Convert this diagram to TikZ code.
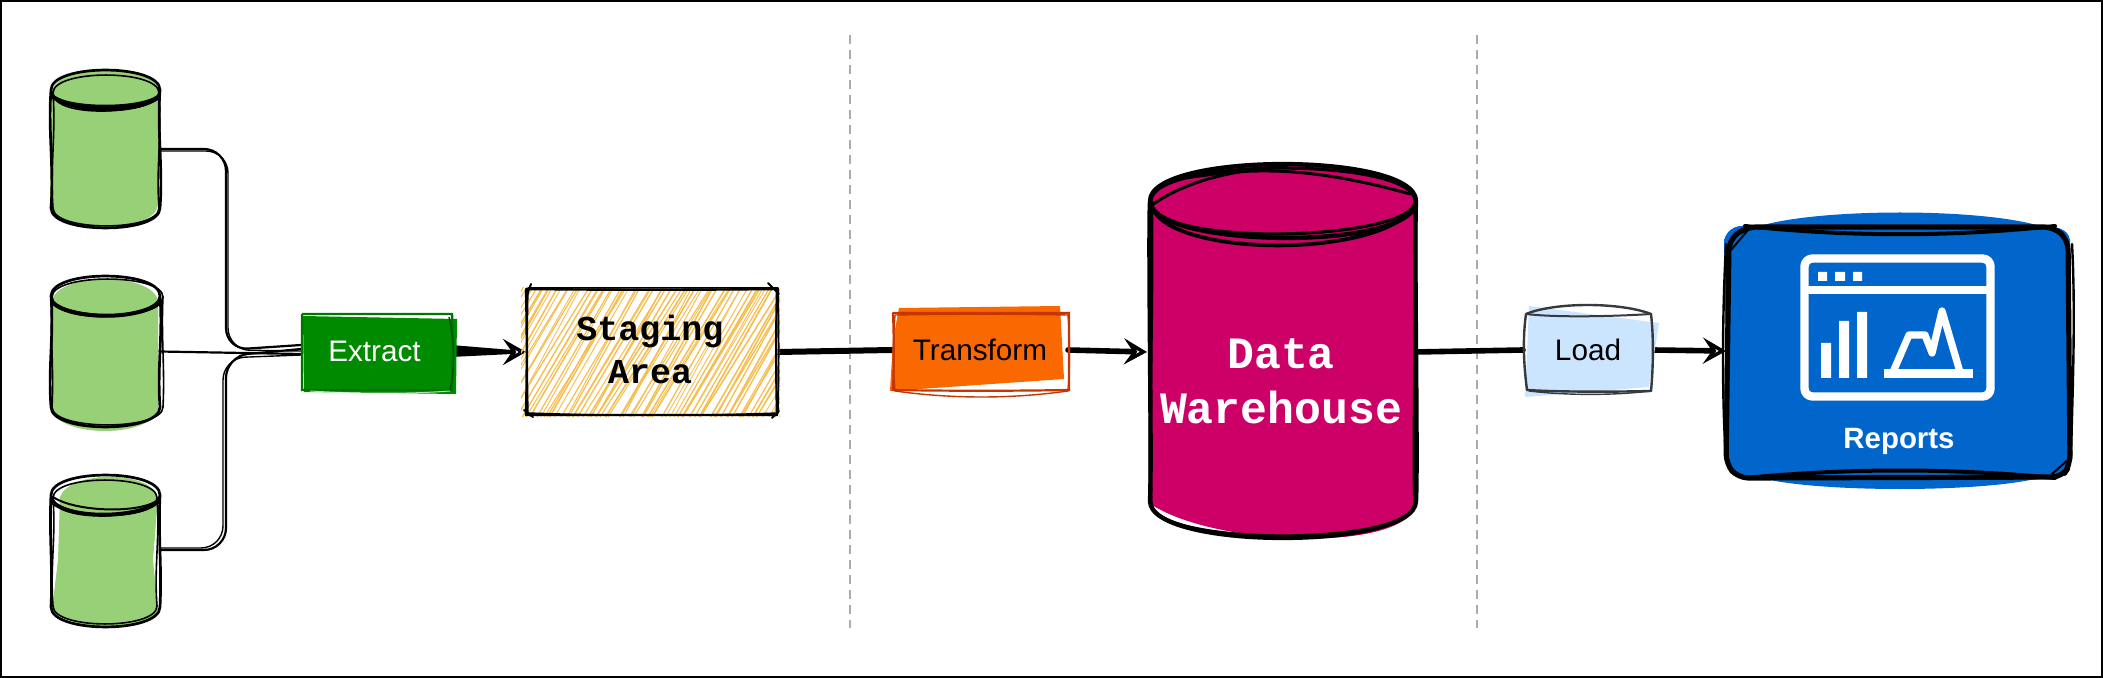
\documentclass[tikz,border=0pt]{standalone}
\usepackage{fontspec}
\setmainfont{Liberation Sans}
\newfontfamily\monof{Liberation Mono}
\usetikzlibrary{arrows.meta,calc}
\pgfdeclarelayer{connlayer}
\pgfdeclarelayer{shapelayer}
\pgfsetlayers{connlayer,shapelayer,main}
\definecolor{srcgreen}{HTML}{97D077}
\definecolor{exgreen}{HTML}{008A00}
\definecolor{hach}{HTML}{F6BE50}
\definecolor{orfill}{HTML}{FA6800}
\definecolor{orline}{HTML}{C73500}
\definecolor{dwfill}{HTML}{CC0066}
\definecolor{ldfill}{HTML}{CCE5FF}
\definecolor{ldline}{HTML}{36393D}
\definecolor{repfill}{HTML}{0066CC}
\tikzset{
  x=0.5pt,y=-0.5pt,
  nodebox/.style={inner sep=0pt,outer sep=0pt,align=center,text depth=0pt},
  ink/.style={draw=black,line cap=round,line join=round},
  thinink/.style={ink,line width=1pt},
  medink/.style={ink,line width=1.35pt},
  fatink/.style={ink,line width=2.4pt},
  wire/.style={ink,line width=1.1pt,rounded corners=11pt},
  flow/.style={ink,line width=2.8pt},
  flowtip/.style={-{Stealth[length=11.5pt,width=13pt,inset=4.5pt,fill=white,line width=2.1pt]}},
  divider/.style={draw=black!33,line width=1.3pt,dash pattern=on 4.5pt off 3pt},
  sanslabel/.style={nodebox,font=\fontsize{14.85}{18}\selectfont},
  monolabel/.style={nodebox,font=\monof\bfseries\fontsize{17.5}{21.5}\selectfont},
  bigmono/.style={nodebox,font=\monof\bfseries\fontsize{22.4}{27.5}\selectfont,text=white},
  iconline/.style={draw=white,line width=4.2pt,line join=round},
}
% one pass of a hand drawn box: left top right bottom, bulge of each side
\newcommand\skbox[9][]{%
  \draw[#1] (#2,#3) .. controls ({#2+(#4-#2)/3},{#3+#6}) and ({#2+2*(#4-#2)/3},{#3+#6}) .. (#4,#3)
    .. controls ({#4+#7},{#3+(#5-#3)/3}) and ({#4+#7},{#3+2*(#5-#3)/3}) .. (#4,#5)
    .. controls ({#2+2*(#4-#2)/3},{#5+#8}) and ({#2+(#4-#2)/3},{#5+#8}) .. (#2,#5)
    .. controls ({#2+#9},{#3+2*(#5-#3)/3}) and ({#2+#9},{#3+(#5-#3)/3}) .. (#2,#3);}
% one pass of a hand drawn cylinder outline: L R T B ry, side bulge, arc offset
\newcommand\skcyl[8][]{%
  \draw[#1] (#2,{#4+#6}) .. controls ({#2+#7},{#4+#6+40}) and ({#2-#7},{#5-#6-40}) .. (#2,{#5-#6})
    .. controls (#2,{#5-#6+1.33*#6}) and (#3,{#5-#6+1.33*#6}) .. (#3,{#5-#6})
    .. controls ({#3-#7},{#5-#6-40}) and ({#3+#7},{#4+#6+40}) .. (#3,{#4+#6})
    .. controls (#3,{#4+#6+1.33*#6+#8}) and (#2,{#4+#6+1.33*#6-#8}) .. (#2,{#4+#6})
    .. controls (#2,{#4+#6-1.33*#6}) and (#3,{#4+#6-1.33*#6}) .. (#3,{#4+#6});}
\begin{document}
\begin{tikzpicture}
\useasboundingbox (0,0) rectangle (2103,678);
% ---------- nodes
\node[nodebox,minimum width=54.5pt,minimum height=79pt] (s1) at (105,149) {};
\node[nodebox,minimum width=54.5pt,minimum height=75.5pt] (s2) at (105,351.5) {};
\node[nodebox,minimum width=54.5pt,minimum height=75.5pt] (s3) at (105,550) {};
\node[sanslabel,text=white,minimum width=75pt,minimum height=39pt] (extract) at (376,351) {};
\node[sanslabel,text=white] (extractt) at (374.5,351) {Extract};
\node[monolabel,minimum width=126pt,minimum height=63pt] (staging) at (652,352) {};
\node[monolabel] (stagingt) at (650,349) {Staging\\Area};
\node[sanslabel,minimum width=88pt,minimum height=40pt] (transform) at (980,350) {Transform};
\node[bigmono,minimum width=133pt,minimum height=187pt] (dw) at (1282,352) {};
\node[bigmono] (dwt) at (1281,381) {Data\\Warehouse};
\node[sanslabel,minimum width=65pt,minimum height=40pt] (load) at (1588,350) {Load};
\node[nodebox,minimum width=172pt,minimum height=127pt] (rep) at (1899,351) {};
\node[sanslabel,font=\bfseries\fontsize{14.7}{18}\selectfont,text=white] (replabel) at (1899,438) {Reports};
\coordinate (bus) at (226,352);
\coordinate (d1t) at (850,35); \coordinate (d1b) at (850,628);
\coordinate (d2t) at (1477,35); \coordinate (d2b) at (1477,628);
% ---------- connectors
\begin{pgfonlayer}{connlayer}
\draw[draw=black,line width=1.3pt] (1,1) rectangle (2102,677);
\draw[divider] (d1t) -- (d1b);
\draw[divider] (d2t) -- (d2b);
\draw[wire] (s1.east) -| ($(bus)+(0,-2)$) -- ($(extract.west)+(0,-6)$);
\draw[wire,line width=0.7pt] ($(s1.east)+(0,2)$) -| ($(bus)+(2,-2)$) -- (extract.west);
\draw[wire] (s2.east) -- ($(extract.west)+(0,3)$);
\draw[wire] (s3.east) -| ($(bus)+(0,4)$) -- ($(extract.west)+(0,-2)$);
\draw[wire,line width=0.7pt] ($(s3.east)+(0,-2)$) -| ($(bus)+(-3,6)$) -- ($(extract.west)+(0,4)$);
\fill[black] ($(extract.east)+(0,-6)$) -- ($(extract.east)+(0,6)$) -- ($(staging.west)+(-14,2)$) -- ($(staging.west)+(-14,-2)$) -- cycle;
\draw[ink,line width=1.6pt,flowtip] ($(extract.east)+(0,1)$) -- (staging.west);
\draw[flow,line width=3pt] (staging.east) -- (transform.west);
\draw[flow,flowtip] (transform.east) -- ($(dw.west)+(-2,0)$);
\draw[flow] (dw.east) -- (load.west);
\draw[flow,flowtip] (load.east) -- ($(rep.west)+(-1,0)$);
\end{pgfonlayer}
% ---------- shapes
\begin{pgfonlayer}{shapelayer}
% source 1
\fill[srcgreen] (52,92) .. controls (56,62) and (156,62) .. (160,92) -- (158,205)
   .. controls (155,234) and (55,234) .. (50,205) -- cycle;
\skcyl[medink]{51}{160}{70}{228}{20}{-3}{1}
\skcyl[thinink,line width=0.8pt]{53}{159}{75}{226}{18}{3}{-3}
\draw[fatink,line width=2pt] (53,97) .. controls (70,110) and (140,110) .. (158,97);
\draw[thinink] (53,96) .. controls (80,112) and (135,114) .. (158,99);
% source 2
\fill[srcgreen] (52,300) .. controls (60,272) and (150,272) .. (158,300) -- (158,410)
   .. controls (150,438) and (60,438) .. (52,410) -- cycle;
\skcyl[medink]{51}{160}{276}{427}{20}{3}{-1}
\skcyl[thinink,line width=0.8pt]{52}{163}{279}{425}{18}{-2}{2}
\draw[fatink,line width=2pt] (53,303) .. controls (72,320) and (140,320) .. (158,303);
% source 3
\fill[srcgreen] (60,497) .. controls (70,470) and (150,470) .. (158,497) -- (153,560) -- (158,610)
   .. controls (150,632) and (70,632) .. (52,610) -- (58,560) -- cycle;
\skcyl[medink]{51}{160}{475}{627}{20}{-2}{1}
\skcyl[thinink,line width=0.8pt]{53}{157}{480}{624}{18}{3}{-2}
\draw[fatink,line width=1.8pt] (53,503) .. controls (75,520) and (140,517) .. (158,502);
\draw[thinink] (53,497) .. controls (75,512) and (140,514) .. (158,500);
% extract
\fill[exgreen] (303,316) -- (457,319) -- (456,394) -- (304,392) -- cycle;
\skbox[draw=exgreen!85!black,line width=1.2pt]{302}{314}{452}{390}{0}{1}{0}{0}
\draw[draw=exgreen!60!black,line width=0.7pt] (449,317) .. controls (455,345) and (455,365) .. (450,390);
\draw[draw=white,line width=0.5pt,opacity=.7] (310,391) .. controls (360,394) and (410,394) .. (450,391);
% staging hachure
\begin{scope}
\clip (521,285) rectangle (780,418);
\pgfmathsetseed{11}
\foreach \h in {440,444,...,790}{
  \pgfmathsetmacro\ra{rnd*8}
  \pgfmathsetmacro\rb{rnd*8}
  \pgfmathsetmacro\rc{0.4+rnd*0.45}
  \draw[hach,line width=\rc pt] ({\h+\ra},417) -- ({\h+\rb+76},287);
}
\end{scope}
\skbox[medink,line width=1.2pt]{526}{289}{777}{415}{1}{-1}{0}{1}
\skbox[thinink,line width=0.75pt]{528}{288}{778}{413}{0}{1}{3}{-1}
\draw[medink,line width=1pt] (526,298) -- (531,284);
\draw[medink,line width=1pt] (768,283) -- (779,294);
\draw[medink,line width=1pt] (524,410) -- (533,417);
\draw[medink,line width=1pt] (772,418) -- (779,411);
% transform
\fill[orfill] (899,308) -- (1060,306) -- (1064,379) -- (934,388) -- (890,391) -- (893,340) -- cycle;
\skbox[draw=orline,line width=1.1pt,line cap=round]{893}{313}{1069}{390}{0}{0}{1}{1}
\skbox[draw=orline,line width=0.7pt,line cap=round]{895}{315}{1068}{391}{-1}{2}{8}{-2}
% warehouse
\fill[dwfill] (1152,201) .. controls (1160,150) and (1405,150) .. (1414,200) -- (1416,503)
  .. controls (1410,552) and (1220,548) .. (1152,505) -- cycle;
\draw[white,line width=0.9pt] (1162,516) .. controls (1185,530) and (1220,534) .. (1250,535);
\skcyl[fatink,line width=2.2pt]{1150}{1416}{164}{538}{37}{-2}{2}
\skcyl[fatink,line width=1.6pt]{1151}{1415}{168}{536}{33}{3}{-4}
\draw[fatink,line width=1.9pt] (1152,208) .. controls (1175,258) and (1380,258) .. (1414,207);
\draw[fatink,line width=1.5pt] (1185,178) .. controls (1230,172) and (1290,160) .. (1410,194);
\draw[fatink,line width=1.5pt] (1152,205) .. controls (1190,178) and (1240,170) .. (1286,166);
% load
\fill[ldfill] (1529,306) -- (1659,323) -- (1649,387) -- (1525,397) -- cycle;
\draw[draw=ldline,line width=1.2pt,line join=round] (1526,314) .. controls (1555,302) and (1620,302) .. (1651,314)
  .. controls (1654,340) and (1653,370) .. (1651,391)
  .. controls (1610,392) and (1560,392) .. (1527,390)
  .. controls (1523,360) and (1523,335) .. (1526,314) -- cycle;
\draw[draw=ldline,line width=1pt] (1526,314) .. controls (1560,318) and (1620,316) .. (1651,314);
\draw[draw=ldline,line width=0.7pt] (1529,391) .. controls (1570,396) and (1620,395) .. (1650,391);
% reports
\fill[repfill] (1724,240) .. controls (1730,222) and (1745,226) .. (1760,226)
  .. controls (1820,208) and (1980,208) .. (2040,226) .. controls (2055,226) and (2068,228) .. (2070,240)
  -- (2071,465) .. controls (2070,475) and (2050,478) .. (2030,480)
  .. controls (1970,492) and (1830,492) .. (1770,480) .. controls (1745,478) and (1730,475) .. (1728,465) -- cycle;
\draw[fatink,rounded corners=5pt,line width=2.6pt] (1729,240) -- (1746,227) -- (2054,227) -- (2068,240) -- (2070,465) -- (2062,477) -- (1738,478) -- (1726,464) -- cycle;
\draw[fatink,line width=2pt] (1745,226) .. controls (1850,237) and (1950,237) .. (2055,226);
\draw[fatink,line width=2pt] (1745,478) .. controls (1850,468) and (1950,468) .. (2055,478);
\draw[fatink,line width=1.2pt] (1726,244) .. controls (1722,320) and (1722,400) .. (1726,460);
\draw[fatink,line width=1.2pt] (2072,244) .. controls (2076,320) and (2072,400) .. (2071,460);
\draw[ink,line width=1pt] (1731,250) -- (1748,230);
\draw[ink,line width=1pt] (2052,474) -- (2070,458);
% report icon
\draw[iconline,rounded corners=4pt] (1804.5,258.5) rectangle (1990.5,396.5);
\draw[iconline] (1804,290) -- (1991,290);
\fill[white] (1818,272) rectangle (1827,281) (1835,272) rectangle (1845,281) (1853,272) rectangle (1862,281);
\fill[white] (1821,343) rectangle (1831,378) (1839,321) rectangle (1849,378) (1857,312) rectangle (1867,378);
\fill[white] (1884,369) rectangle (1973,378);
\draw[iconline,line width=3.6pt] (1893,372) -- (1909,335) -- (1925,335) -- (1932,353) -- (1942,311) -- (1960,372);
\end{pgfonlayer}
\end{tikzpicture}
\end{document}
